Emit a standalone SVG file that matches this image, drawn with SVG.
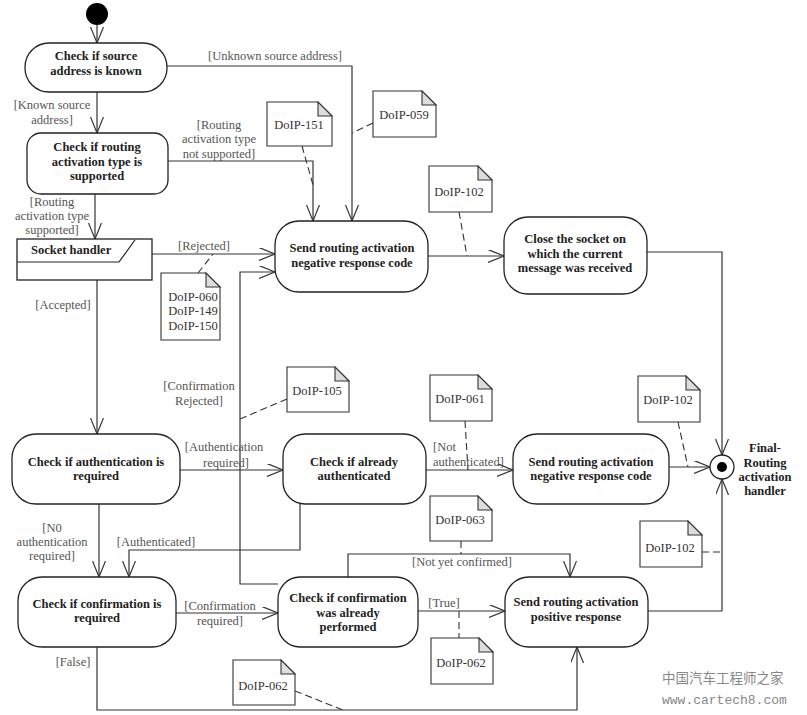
<svg xmlns="http://www.w3.org/2000/svg" width="807" height="715" viewBox="0 0 807 715">
<style>
.node{fill:#fff;stroke:#222;stroke-width:1.3}
.nt{font-family:"Liberation Serif",serif;font-weight:bold;font-size:12.5px;fill:#222;text-anchor:middle}
.lb{font-family:"Liberation Serif",serif;font-size:12.5px;fill:#555;text-anchor:middle}
.note{fill:#fff;stroke:#333;stroke-width:1.1}
.fold{fill:#ddd;stroke:#333;stroke-width:1.1}
.ntx{font-family:"Liberation Serif",serif;font-size:12.5px;fill:#333;text-anchor:middle}
.c{fill:none;stroke:#333;stroke-width:1.2;marker-end:url(#arr)}
.d{fill:none;stroke:#333;stroke-width:1.1;stroke-dasharray:7,4}
.wm{fill:#888}
</style>
<defs>
<marker id="arr" markerUnits="userSpaceOnUse" markerWidth="18" markerHeight="14" refX="16" refY="6.5" orient="auto">
<path d="M0,0 L16,6.5 L0,13" fill="none" stroke="#333" stroke-width="1.2"/>
</marker>
</defs>
<rect width="807" height="715" fill="#fff"/>

<g id="connectors">
<path class="c" d="M97,25 V43"/>
<path class="c" d="M97,92 V133"/>
<path class="c" d="M167,66 H352 V221"/>
<path class="c" d="M168,161 H313 V221"/>
<path class="c" d="M95,194 V239"/>
<path class="c" d="M152,254 H275"/>
<path class="c" d="M428,256 H504"/>
<path class="c" d="M647,252 H722 V455"/>
<path class="c" d="M97,280 V434"/>
<path class="c" d="M180,470 H283"/>
<path class="c" d="M426,470 H513"/>
<path class="c" d="M669,467 H710"/>
<path class="c" d="M99,504 V577"/>
<path class="c" d="M300,504 V550 H129 V577"/>
<path class="c" d="M176,613 H278"/>
<path class="c" d="M278,584 H240 V272 H275"/>
<path class="c" d="M348,577 V554 H570 V577"/>
<path class="c" d="M418,611 H505"/>
<path class="c" d="M97,647 V710 H577 V647"/>
<path class="c" d="M648,611 H722 V479"/>
<path class="d" d="M302,146 L313,185"/>
<path class="d" d="M373,123 L352,133"/>
<path class="d" d="M459,212 L467,256"/>
<path class="d" d="M198,273 L213,254"/>
<path class="d" d="M287,399 L240,419"/>
<path class="d" d="M465,421 L468,470"/>
<path class="d" d="M678,422 L688,467"/>
<path class="d" d="M461,541 L461,554"/>
<path class="d" d="M702,552 L722,552"/>
<path class="d" d="M459,611 L459,638"/>
<path class="d" d="M295,691 L343,710"/>
<text class="lb" x="275" y="60">[Unknown source address]</text>
<text class="lb" x="52" y="109">[Known source</text>
<text class="lb" x="52" y="124">address]</text>
<text class="lb" x="219" y="129">[Routing</text>
<text class="lb" x="219" y="143">activation type</text>
<text class="lb" x="219" y="158">not supported]</text>
<text class="lb" x="52" y="206">[Routing</text>
<text class="lb" x="52" y="220">activation type</text>
<text class="lb" x="52" y="234">supported]</text>
<text class="lb" x="204" y="250">[Rejected]</text>
<text class="lb" x="63" y="309">[Accepted]</text>
<text class="lb" x="199" y="390">[Confirmation</text>
<text class="lb" x="199" y="405">Rejected]</text>
<text class="lb" x="224" y="451">[Authentication</text>
<text class="lb" x="226" y="467">required]</text>
<text class="lb" x="433" y="451" style="text-anchor:start">[Not</text>
<text class="lb" x="433" y="466" style="text-anchor:start">authenticated]</text>
<text class="lb" x="52" y="532">[N0</text>
<text class="lb" x="52" y="546">authentication</text>
<text class="lb" x="52" y="560">required]</text>
<text class="lb" x="156" y="546">[Authenticated]</text>
<text class="lb" x="220" y="610">[Confirmation</text>
<text class="lb" x="220" y="625">required]</text>
<text class="lb" x="462" y="566">[Not yet confirmed]</text>
<text class="lb" x="444" y="607">[True]</text>
<text class="lb" x="73" y="666">[False]</text>
</g>

<g id="start"><circle cx="97" cy="14" r="11" fill="#000"/></g>

<g id="n-source">
<rect class="node" x="25" y="43" width="142" height="49" rx="24"/>
<text class="nt" x="96" y="60">Check if source</text>
<text class="nt" x="96" y="75">address is known</text>
</g>

<g id="n-type">
<rect class="node" x="27" y="133" width="141" height="61" rx="14"/>
<text class="nt" x="97" y="151">Check if routing</text>
<text class="nt" x="97" y="166">activation type is</text>
<text class="nt" x="97" y="180">supported</text>
</g>

<g id="n-socket">
<rect class="node" x="17" y="239" width="135" height="41"/>
<path d="M17,262 H119 L135,240" fill="none" stroke="#222" stroke-width="1.2"/>
<text class="nt" x="31" y="254" style="text-anchor:start">Socket handler</text>
</g>

<g id="n-neg1">
<rect class="node" x="275" y="221" width="153" height="71" rx="24"/>
<text class="nt" x="352" y="252">Send routing activation</text>
<text class="nt" x="352" y="267">negative response code</text>
</g>

<g id="n-close">
<rect class="node" x="504" y="217" width="143" height="77" rx="24"/>
<text class="nt" x="575" y="243">Close the socket on</text>
<text class="nt" x="575" y="258">which the current</text>
<text class="nt" x="575" y="272">message was received</text>
</g>

<g id="n-auth">
<rect class="node" x="12" y="434" width="168" height="70" rx="24"/>
<text class="nt" x="96" y="466">Check if authentication is</text>
<text class="nt" x="96" y="480">required</text>
</g>

<g id="n-already">
<rect class="node" x="283" y="434" width="143" height="70" rx="22"/>
<text class="nt" x="354" y="466">Check if already</text>
<text class="nt" x="354" y="480">authenticated</text>
</g>

<g id="n-neg2">
<rect class="node" x="513" y="434" width="156" height="70" rx="24"/>
<text class="nt" x="591" y="466">Send routing activation</text>
<text class="nt" x="591" y="480">negative response code</text>
</g>

<g id="n-final">
<circle cx="722" cy="467" r="12" fill="#fff" stroke="#222" stroke-width="1.3"/>
<circle cx="722" cy="467" r="5" fill="#000"/>
<text class="nt" x="765" y="452">Final-</text>
<text class="nt" x="765" y="467">Routing</text>
<text class="nt" x="765" y="481">activation</text>
<text class="nt" x="765" y="495">handler</text>
</g>

<g id="n-confirm">
<rect class="node" x="18" y="577" width="158" height="70" rx="24"/>
<text class="nt" x="97" y="608">Check if confirmation is</text>
<text class="nt" x="97" y="622">required</text>
</g>

<g id="n-performed">
<rect class="node" x="278" y="577" width="140" height="70" rx="22"/>
<text class="nt" x="348" y="602">Check if confirmation</text>
<text class="nt" x="348" y="617">was already</text>
<text class="nt" x="348" y="631">performed</text>
</g>

<g id="n-positive">
<rect class="node" x="505" y="577" width="143" height="70" rx="24"/>
<text class="nt" x="576" y="606">Send routing activation</text>
<text class="nt" x="576" y="621">positive response</text>
</g>

<g id="note-151">
<path class="note" d="M267,102 H318 L332,116 V146 H267 Z"/><path class="fold" d="M318,102 V116 H332 Z"/>
<text class="ntx" x="299" y="129">DoIP-151</text>
</g>
<g id="note-059">
<path class="note" d="M373,91 H422 L436,105 V137 H373 Z"/><path class="fold" d="M422,91 V105 H436 Z"/>
<text class="ntx" x="404" y="119">DoIP-059</text>
</g>
<g id="note-102a">
<path class="note" d="M429,166 H478 L492,180 V212 H429 Z"/><path class="fold" d="M478,166 V180 H492 Z"/>
<text class="ntx" x="459" y="196">DoIP-102</text>
</g>
<g id="note-060">
<path class="note" d="M161,273 H206 L220,287 V340 H161 Z"/><path class="fold" d="M206,273 V287 H220 Z"/>
<text class="ntx" x="193" y="301">DoIP-060</text>
<text class="ntx" x="193" y="315">DoIP-149</text>
<text class="ntx" x="193" y="330">DoIP-150</text>
</g>
<g id="note-105">
<path class="note" d="M287,367 H335 L349,381 V412 H287 Z"/><path class="fold" d="M335,367 V381 H349 Z"/>
<text class="ntx" x="317" y="395">DoIP-105</text>
</g>
<g id="note-061">
<path class="note" d="M430,375 H478 L492,389 V421 H430 Z"/><path class="fold" d="M478,375 V389 H492 Z"/>
<text class="ntx" x="460" y="403">DoIP-061</text>
</g>
<g id="note-102b">
<path class="note" d="M638,376 H686 L700,390 V422 H638 Z"/><path class="fold" d="M686,376 V390 H700 Z"/>
<text class="ntx" x="668" y="404">DoIP-102</text>
</g>
<g id="note-063">
<path class="note" d="M430,496 H478 L492,510 V541 H430 Z"/><path class="fold" d="M478,496 V510 H492 Z"/>
<text class="ntx" x="460" y="524">DoIP-063</text>
</g>
<g id="note-102c">
<path class="note" d="M640,521 H688 L702,535 V567 H640 Z"/><path class="fold" d="M688,521 V535 H702 Z"/>
<text class="ntx" x="670" y="552">DoIP-102</text>
</g>
<g id="note-062a">
<path class="note" d="M431,638 H479 L493,652 V684 H431 Z"/><path class="fold" d="M479,638 V652 H493 Z"/>
<text class="ntx" x="461" y="667">DoIP-062</text>
</g>
<g id="note-062b">
<path class="note" d="M233,660 H281 L295,674 V705 H233 Z"/><path class="fold" d="M281,660 V674 H295 Z"/>
<text class="ntx" x="263" y="690">DoIP-062</text>
</g>

<g id="watermark">
<text class="wm" x="662" y="683" style="font-family:'Noto Sans CJK SC',sans-serif;font-size:13.5px">中国汽车工程师之家</text>
<text class="wm" x="662" y="704" style="font-family:'Liberation Mono',monospace;font-size:13px">www.cartech8.com</text>
</g>
</svg>
